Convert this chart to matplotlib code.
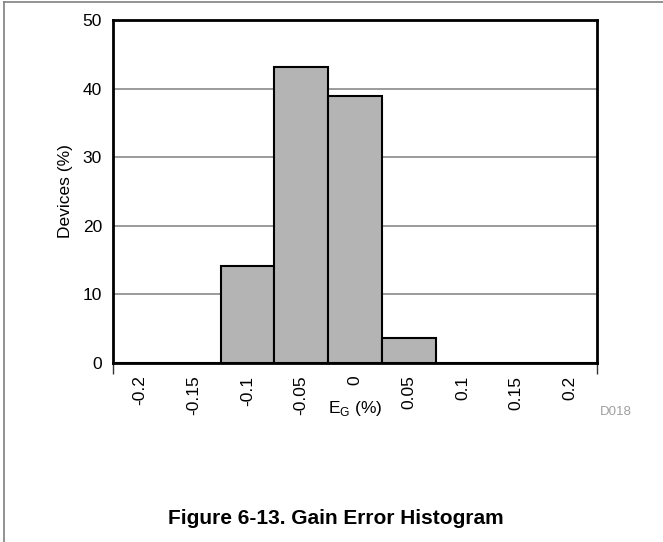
import matplotlib
matplotlib.use("Agg")
import matplotlib.pyplot as plt
from matplotlib.lines import Line2D

plt.rcParams['font.family'] = ['Liberation Sans', 'DejaVu Sans']

# Data
bin_centers = [-0.2, -0.15, -0.1, -0.05, 0.0, 0.05, 0.1, 0.15, 0.2]
tick_labels = ['-0.2', '-0.15', '-0.1', '-0.05', '0', '0.05', '0.1', '0.15', '0.2']
devices_pct = [0.0, 0.0, 14.2, 43.1, 38.9, 3.7, 0.0, 0.0, 0.0]
y_ticks = [0, 10, 20, 30, 40, 50]

W, H = 663, 542
fig = plt.figure(figsize=(W / 100, H / 100), dpi=100)
ax = fig.add_axes([113 / W, 1 - 363 / H, (597 - 113) / W, (363 - 20) / H])

ax.set_axisbelow(True)
ax.yaxis.grid(True, color='#808080', linewidth=1.1)
ax.bar(bin_centers, devices_pct, width=0.05, color='#b4b4b4',
       edgecolor='black', linewidth=1.5, zorder=2)

ax.set_xlim(-0.225, 0.225)
ax.set_ylim(0, 50)
ax.set_xticks(bin_centers)
ax.set_xticklabels(tick_labels, rotation=90, fontsize=12.5)
ax.set_xticks([-0.225, 0.225], minor=True)
ax.tick_params(axis='x', which='major', length=0, pad=9)
ax.tick_params(axis='x', which='minor', length=8, width=1, color='#333333')
ax.set_yticks(y_ticks)
ax.tick_params(axis='y', length=0, pad=8, labelsize=12.5)
for s in ax.spines.values():
    s.set_linewidth(2.0)
    s.set_color('black')
    s.set_zorder(3)

ax.set_ylabel('Devices (%)', fontsize=12.5, labelpad=7)
fig.text(355 / W, 1 - 409 / H, r'E$_\mathregular{G}$ (%)', fontsize=12.5,
         ha='center', va='center')
fig.text(600 / W, 1 - 412 / H, 'D018', fontsize=9.5, color='#a0a0a0',
         ha='left', va='center')
fig.text(336 / W, 1 - 519 / H, 'Figure 6-13. Gain Error Histogram',
         fontsize=15, fontweight='bold', ha='center', va='center')

# page border lines (left and top)
fig.add_artist(Line2D([4 / W, 4 / W], [0, 1 - 2 / H], transform=fig.transFigure,
                      color='#808080', linewidth=1.2))
fig.add_artist(Line2D([4 / W, 1], [1 - 2 / H, 1 - 2 / H], transform=fig.transFigure,
                      color='#808080', linewidth=1.2))

fig.savefig('out.png', dpi=100)
